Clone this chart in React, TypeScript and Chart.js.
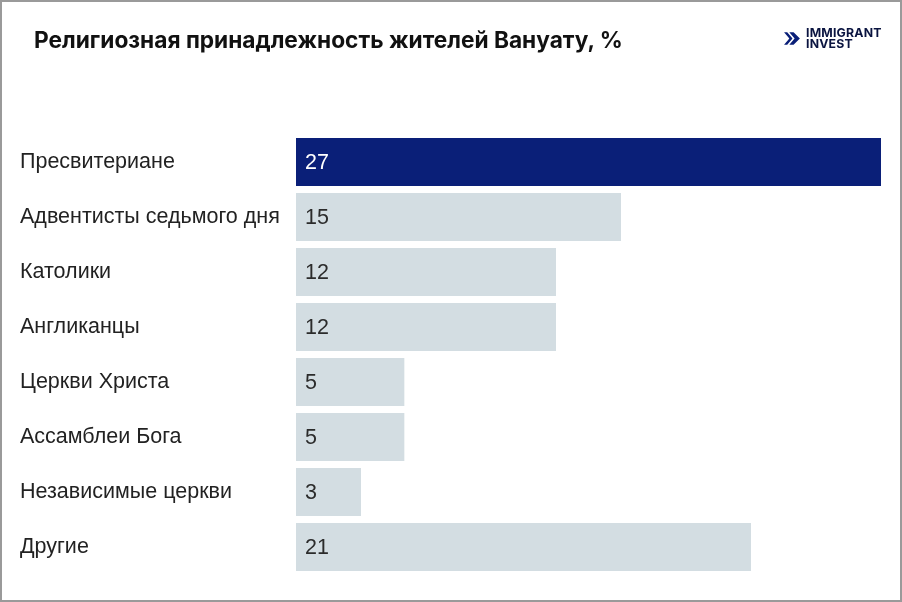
import React, { useEffect, useRef } from "react";
import { Chart, registerables } from "chart.js";

Chart.register(...registerables);

const categories = [
  "Пресвитериане",
  "Адвентисты седьмого дня",
  "Католики",
  "Англиканцы",
  "Церкви Христа",
  "Ассамблеи Бога",
  "Независимые церкви",
  "Другие",
];
const values = [27, 15, 12, 12, 5, 5, 3, 21];
const barColors = ["#0a1f78", "#d3dde2", "#d3dde2", "#d3dde2", "#d3dde2", "#d3dde2", "#d3dde2", "#d3dde2"];
const labelColors = ["#ffffff", "#2b2b2b", "#2b2b2b", "#2b2b2b", "#2b2b2b", "#2b2b2b", "#2b2b2b", "#2b2b2b"];
const title = "Религиозная принадлежность жителей Вануату, %";

const valueLabels = {
  id: "valueLabels",
  afterDatasetsDraw(chart: any) {
    const ctx = chart.ctx;
    const meta = chart.getDatasetMeta(0);
    ctx.save();
    ctx.font = "21.5px 'Liberation Sans'";
    ctx.textBaseline = "middle";
    ctx.textAlign = "left";
    meta.data.forEach((bar: any, i: number) => {
      ctx.fillStyle = labelColors[i];
      ctx.fillText(String(values[i]), bar.base + 9, bar.y + 1);
    });
    ctx.restore();
  },
};

export default function App() {
  const ref = useRef<HTMLCanvasElement>(null);
  useEffect(() => {
    document.body.style.margin = "0";
    const chart = new Chart(ref.current!, {
      type: "bar",
      data: {
        labels: categories,
        datasets: [
          {
            data: values,
            backgroundColor: barColors,
            barPercentage: 0.873,
            categoryPercentage: 1,
            borderWidth: 0,
          },
        ],
      },
      options: {
        indexAxis: "y",
        animation: false,
        responsive: false,
        maintainAspectRatio: false,
        layout: { padding: { top: 134.5, bottom: 27.5, right: 21, left: 20 } },
        plugins: { legend: { display: false }, tooltip: { enabled: false } },
        scales: {
          x: { display: false, min: 0, max: 27 },
          y: {
            grid: { display: false, drawTicks: false },
            border: { display: false },
            afterFit(scale: any) {
              scale.width = 276;
            },
            ticks: {
              crossAlign: "far",
              padding: 0,
              color: "#222222",
              font: { family: "'Liberation Sans', Arial, sans-serif", size: 21.5 },
            },
          },
        },
      },
      plugins: [valueLabels],
    });
    return () => chart.destroy();
  }, []);

  return (
    <div
      style={{
        position: "absolute",
        left: 0,
        top: 0,
        width: 902,
        height: 602,
        boxSizing: "border-box",
        border: "2px solid #9a9a9a",
        background: "#ffffff",
        overflow: "hidden",
      }}
    >
      <canvas ref={ref} width={902} height={602} style={{ position: "absolute", left: -2, top: -2 }} />
      <div
        style={{
          position: "absolute",
          left: 32,
          top: 24,
          fontFamily: "Inter, 'Noto Sans', sans-serif",
          fontWeight: 700,
          fontSize: 22.7,
          color: "#111111",
          whiteSpace: "nowrap",
        }}
      >
        {title}
      </div>
      <div style={{ position: "absolute", left: 781, top: 26, display: "flex", alignItems: "center" }}>
        <svg width="19" height="19" viewBox="0 0 18 18">
          <path d="M1 3 L4 3 L9 9 L4 15 L1 15 L6 9 Z" fill="#0a1f78" />
          <path d="M6 3 L10 3 L16 9 L10 15 L6 15 L11 9 Z" fill="#0a1f78" />
        </svg>
        <div
          style={{
            marginLeft: 4,
            fontFamily: "Inter, 'Noto Sans', sans-serif",
            fontWeight: 700,
            fontSize: 12.3,
            lineHeight: "10.5px",
            color: "#0a1440",
            letterSpacing: 0.2,
          }}
        >
          IMMIGRANT
          <br />
          INVEST
        </div>
      </div>
    </div>
  );
}
